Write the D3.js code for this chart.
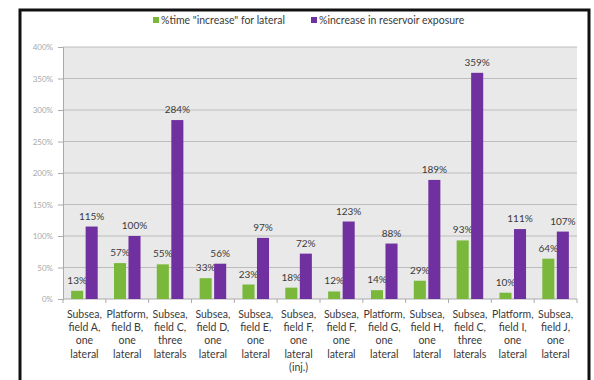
<!DOCTYPE html>
<html>
<head>
<meta charset="utf-8">
<script src="https://cdn.jsdelivr.net/npm/d3@7"></script>
<style>
  body { margin: 0; background: #fff; }
  text { font-family: Lato, "Open Sans", sans-serif; }
</style>
</head>
<body>
<svg width="594" height="380"></svg>
<script>
// category labels, one array of lines per category
let categories = [
  ["Subsea,", "field A,", "one", "lateral"],
  ["Platform,", "field B,", "one", "lateral"],
  ["Subsea,", "field C,", "three", "laterals"],
  ["Subsea,", "field D,", "one", "lateral"],
  ["Subsea,", "field E,", "one", "lateral"],
  ["Subsea,", "field F,", "one", "lateral", "(inj.)"],
  ["Subsea,", "field F,", "one", "lateral"],
  ["Platform,", "field G,", "one", "lateral"],
  ["Subsea,", "field H,", "one", "lateral"],
  ["Subsea,", "field C,", "three", "laterals"],
  ["Platform,", "field I,", "one", "lateral"],
  ["Subsea,", "field J,", "one", "lateral"]
];
let timeIncrease = [13, 57, 55, 33, 23, 18, 12, 14, 29, 93, 10, 64];
let exposureIncrease = [115, 100, 284, 56, 97, 72, 123, 88, 189, 359, 111, 107];
let seriesNames = ["%time \"increase\" for lateral", "%increase in reservoir exposure"];
let yTicks = [0, 50, 100, 150, 200, 250, 300, 350, 400];

let colors = ["#7ab83c", "#7030a0"];

let svg = d3.select("svg");

// outer frame (black, open at the bottom)
svg.append("path")
    .attr("d", "M20,382 L20,10 L589,10 L589,382")
    .attr("fill", "none")
    .attr("stroke", "#111")
    .attr("stroke-width", 3);

let plotLeft = 63, plotRight = 577, plotTop = 47, plotBottom = 299;

let x = d3.scaleBand()
    .domain(d3.range(categories.length))
    .range([plotLeft, plotRight]);

let x1 = d3.scaleBand()
    .domain([0, 1])
    .range([0, x.bandwidth()])
    .paddingInner(0.17)
    .paddingOuter(0.56);

let y = d3.scaleLinear()
    .domain([0, 400])
    .range([plotBottom, plotTop]);

// plot background
svg.append("rect")
    .attr("x", plotLeft).attr("y", plotTop)
    .attr("width", plotRight - plotLeft).attr("height", plotBottom - plotTop)
    .attr("fill", "#e9e9e9");

// gridlines
svg.append("g")
    .selectAll("line")
    .data(yTicks.slice(1))
    .enter()
    .append("line")
    .attr("x1", plotLeft).attr("x2", plotRight)
    .attr("y1", d => y(d)).attr("y2", d => y(d))
    .attr("stroke", "#bdbdbd");

// y axis
let yAxis = svg.append("g")
    .attr("transform", "translate(" + plotLeft + ",0)")
    .call(d3.axisLeft(y).tickValues(yTicks).tickFormat(d => d + "%").tickSize(5).tickPadding(5));
yAxis.select(".domain").attr("stroke", "#aaa");
yAxis.selectAll(".tick line").attr("stroke", "#aaa");
yAxis.selectAll("text").attr("fill", "#a8a8a8").style("font-size", "8px");

// x axis line with ticks between categories
svg.append("line")
    .attr("x1", plotLeft).attr("x2", plotRight)
    .attr("y1", plotBottom).attr("y2", plotBottom)
    .attr("stroke", "#aaa");
svg.append("g")
    .selectAll("line")
    .data(d3.range(categories.length + 1))
    .enter()
    .append("line")
    .attr("x1", i => plotLeft + i * x.bandwidth()).attr("x2", i => plotLeft + i * x.bandwidth())
    .attr("y1", plotBottom).attr("y2", plotBottom + 4)
    .attr("stroke", "#aaa");

// bars
let series = [timeIncrease, exposureIncrease];
series.forEach(function(vals, s) {
    let g = svg.append("g");
    g.selectAll("rect")
        .data(vals)
        .enter()
        .append("rect")
        .attr("x", (d, i) => x(i) + x1(s))
        .attr("width", x1.bandwidth())
        .attr("y", d => y(d))
        .attr("height", d => y(0) - y(d))
        .attr("fill", colors[s]);
    g.selectAll("text")
        .data(vals)
        .enter()
        .append("text")
        .attr("x", (d, i) => x(i) + x1(s) + x1.bandwidth() / 2)
        .attr("y", d => y(d) - 7)
        .attr("text-anchor", "middle")
        .attr("fill", "#3a3a3a")
        .style("font-size", "10px")
        .text(d => d + "%");
});

// category labels
let labels = svg.append("g")
    .selectAll("text")
    .data(categories)
    .enter()
    .append("text")
    .attr("text-anchor", "middle")
    .attr("fill", "#3a3a3a")
    .style("font-size", "10.5px");
labels.selectAll("tspan")
    .data((d, i) => d.map(line => ({ line: line, i: i })))
    .enter()
    .append("tspan")
    .attr("x", d => x(d.i) + x.bandwidth() / 2)
    .attr("y", (d, j) => 318 + j * 13.2)
    .text(d => d.line);

// legend
let legendX = [153, 311];
series.forEach(function(vals, s) {
    svg.append("rect")
        .attr("x", legendX[s]).attr("y", 17)
        .attr("width", 6).attr("height", 6)
        .attr("fill", colors[s]);
    svg.append("text")
        .attr("x", legendX[s] + 8).attr("y", 23.5)
        .attr("fill", "#3a3a3a")
        .style("font-size", "10.5px")
        .text(seriesNames[s]);
});
</script>
</body>
</html>
